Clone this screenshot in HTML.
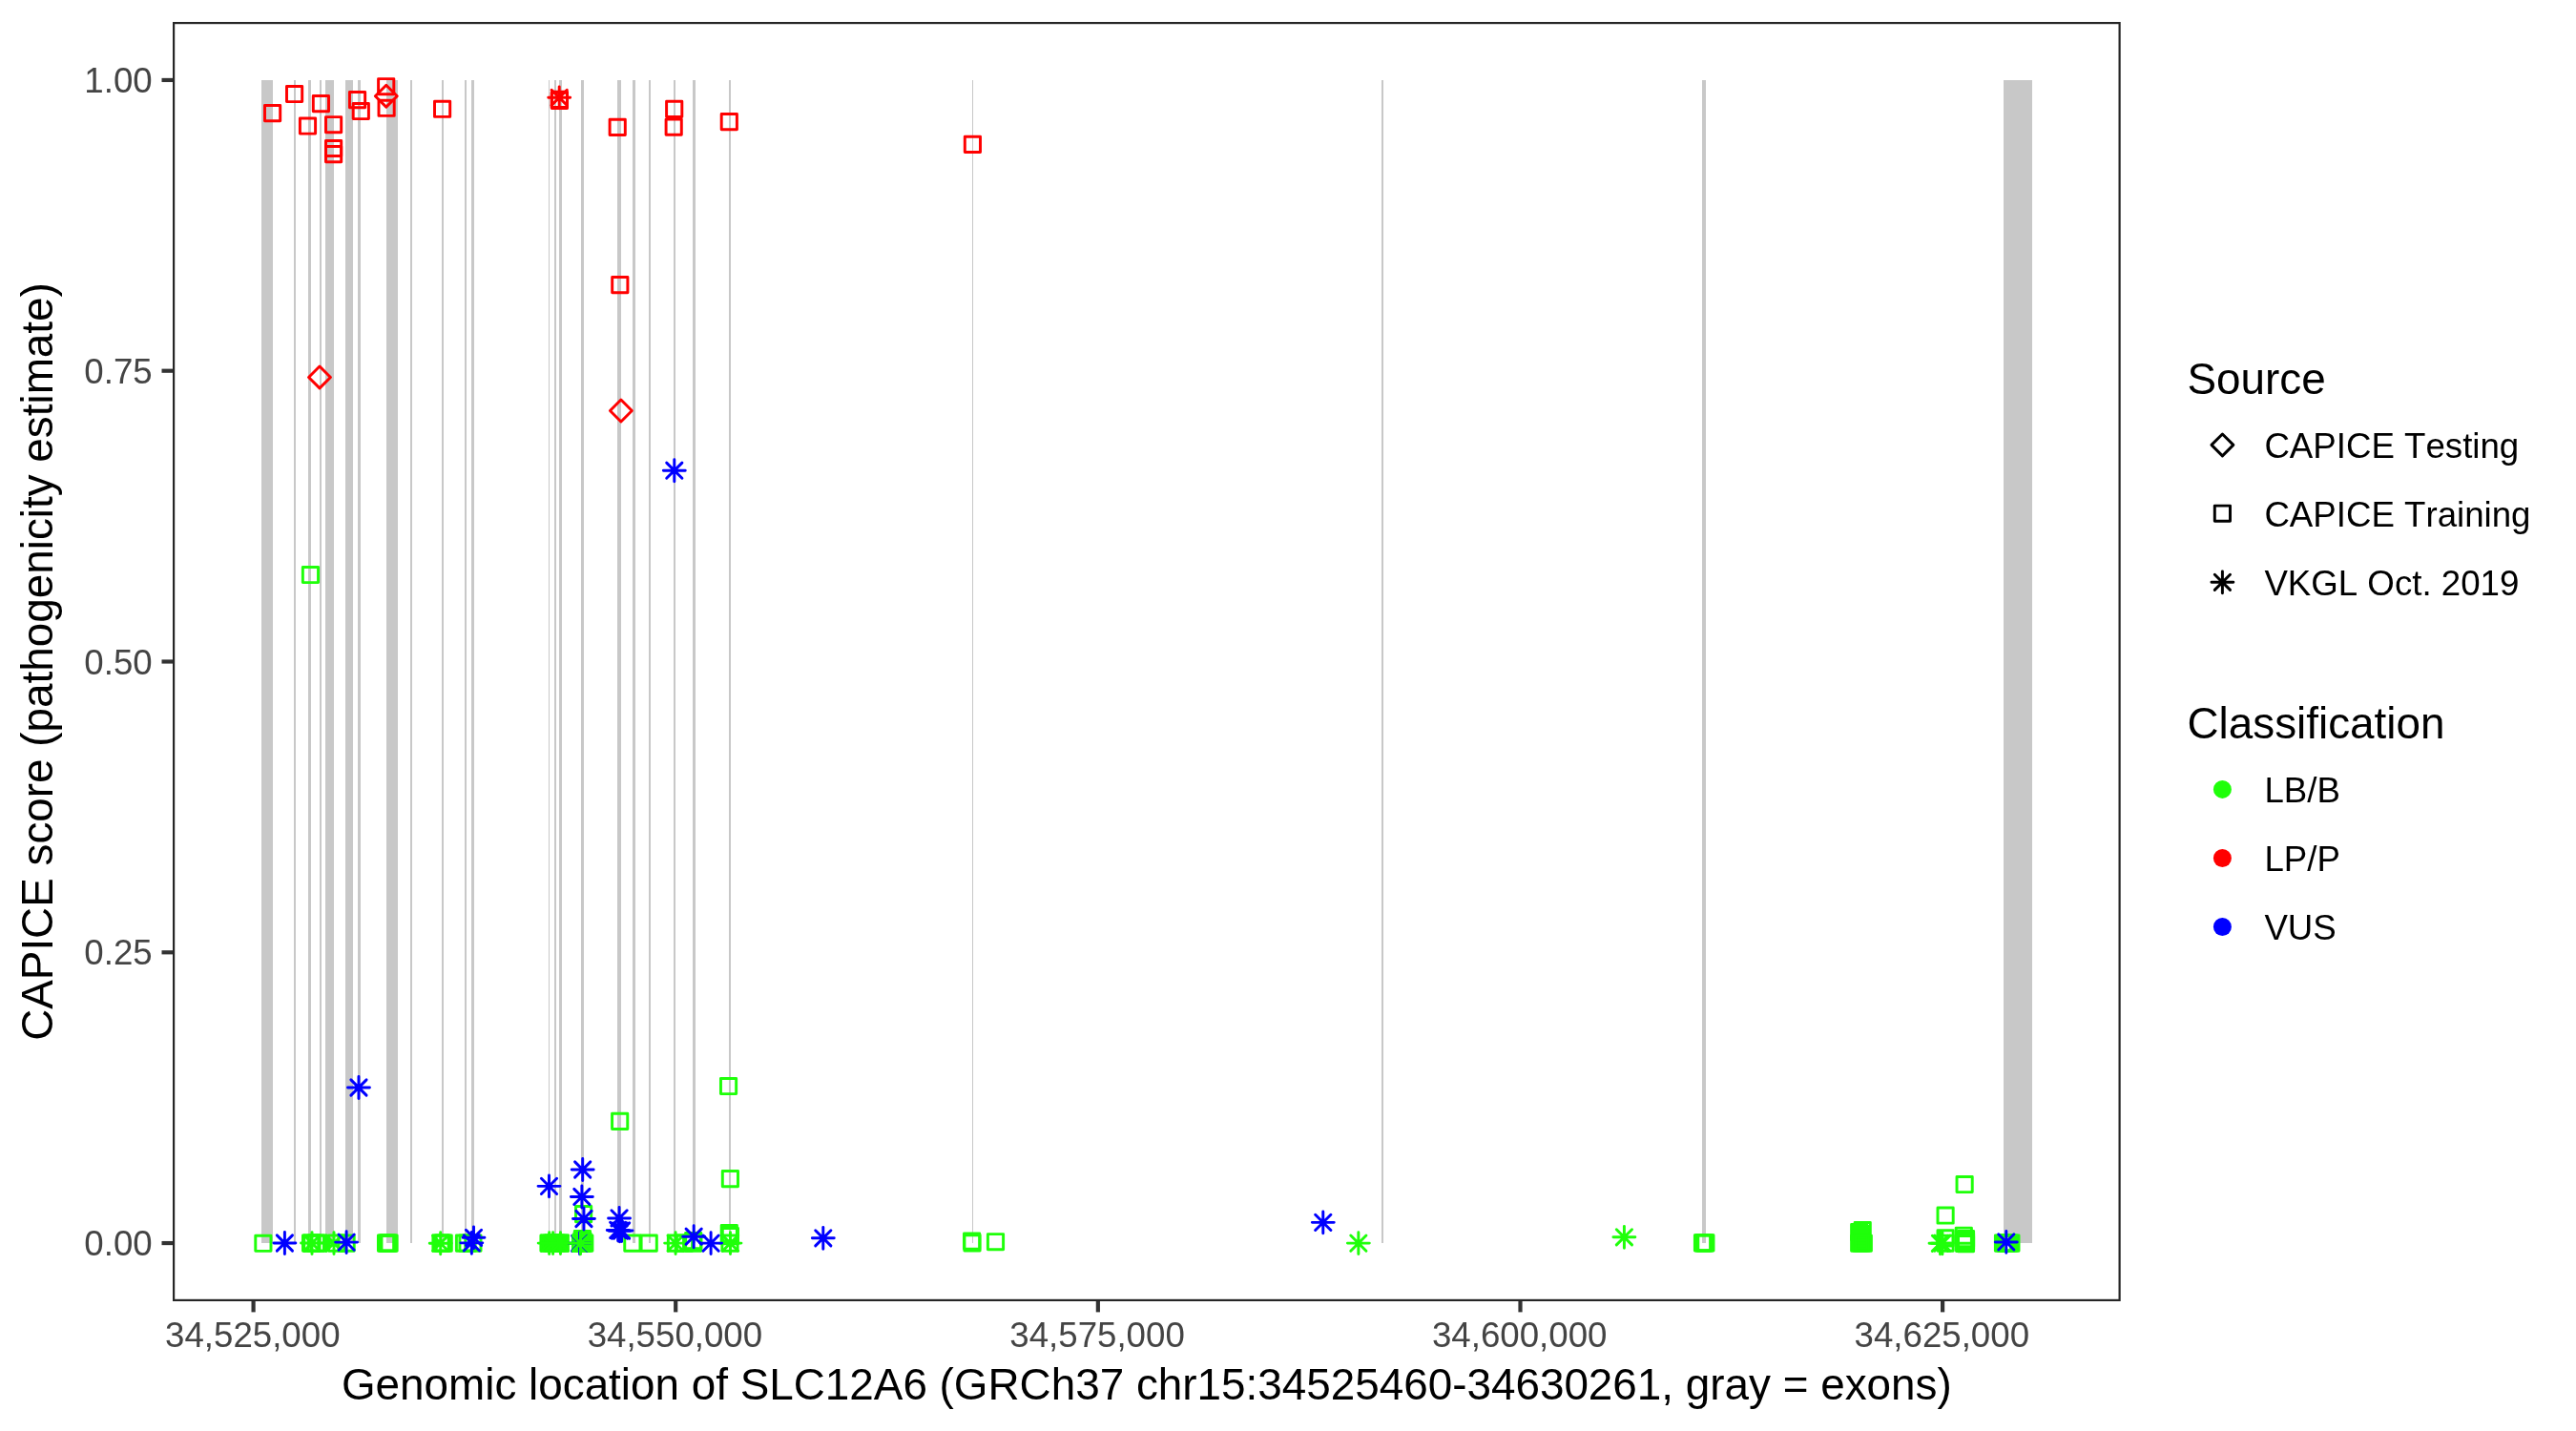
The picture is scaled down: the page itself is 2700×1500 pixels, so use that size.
<!DOCTYPE html>
<html><head><meta charset="utf-8"><title>CAPICE SLC12A6</title>
<style>html,body{margin:0;padding:0;background:#fff;}body{width:2700px;height:1500px;overflow:hidden;font-family:"Liberation Sans",sans-serif;}svg{display:block;will-change:transform;}text{font-kerning:none;}</style></head>
<body>
<svg width="2700" height="1500" viewBox="0 0 2700 1500">
<rect width="2700" height="1500" fill="#fff"/>
<g fill="#C8C8C8" shape-rendering="crispEdges">
<rect x="274.00" y="83.95" width="12.00" height="1218.80"/>
<rect x="308.00" y="83.95" width="2.00" height="1218.80"/>
<rect x="323.00" y="83.95" width="3.00" height="1218.80"/>
<rect x="335.00" y="83.95" width="2.00" height="1218.80"/>
<rect x="341.00" y="83.95" width="9.00" height="1218.80"/>
<rect x="362.00" y="83.95" width="8.00" height="1218.80"/>
<rect x="375.00" y="83.95" width="3.00" height="1218.80"/>
<rect x="405.00" y="83.95" width="12.00" height="1218.80"/>
<rect x="430.00" y="83.95" width="2.00" height="1218.80"/>
<rect x="463.00" y="83.95" width="2.00" height="1218.80"/>
<rect x="487.00" y="83.95" width="2.00" height="1218.80"/>
<rect x="494.00" y="83.95" width="3.00" height="1218.80"/>
<rect x="575.00" y="83.95" width="1.10" height="1218.80"/>
<rect x="581.00" y="83.95" width="2.00" height="1218.80"/>
<rect x="586.00" y="83.95" width="3.00" height="1218.80"/>
<rect x="609.00" y="83.95" width="3.00" height="1218.80"/>
<rect x="647.00" y="83.95" width="4.00" height="1218.80"/>
<rect x="663.00" y="83.95" width="3.00" height="1218.80"/>
<rect x="680.00" y="83.95" width="2.00" height="1218.80"/>
<rect x="706.00" y="83.95" width="2.00" height="1218.80"/>
<rect x="726.00" y="83.95" width="3.00" height="1218.80"/>
<rect x="764.00" y="83.95" width="2.00" height="1218.80"/>
<rect x="1019.00" y="83.95" width="1.10" height="1218.80"/>
<rect x="1448.00" y="83.95" width="2.00" height="1218.80"/>
<rect x="1784.00" y="83.95" width="4.00" height="1218.80"/>
<rect x="2100.00" y="83.95" width="30.00" height="1218.80"/>
</g>
<g fill="none" stroke-width="2.95" stroke-linecap="round" stroke-linejoin="round">
<path d="M393.35 100.70L404.80 112.15L416.25 100.70L404.80 89.25Z" stroke="#FF0000"/>
<path d="M323.55 395.45L335.00 406.90L346.45 395.45L335.00 384.00Z" stroke="#FF0000"/>
<path d="M639.45 430.50L650.90 441.95L662.35 430.50L650.90 419.05Z" stroke="#FF0000"/>
<rect x="277.50" y="110.50" width="16.20" height="16.20" stroke="#FF0000"/>
<rect x="300.50" y="90.40" width="16.20" height="16.20" stroke="#FF0000"/>
<rect x="314.40" y="123.90" width="16.20" height="16.20" stroke="#FF0000"/>
<rect x="328.30" y="100.50" width="16.20" height="16.20" stroke="#FF0000"/>
<rect x="341.50" y="122.60" width="16.20" height="16.20" stroke="#FF0000"/>
<rect x="341.50" y="147.40" width="16.20" height="16.20" stroke="#FF0000"/>
<rect x="341.50" y="153.50" width="16.20" height="16.20" stroke="#FF0000"/>
<rect x="366.45" y="96.50" width="16.20" height="16.20" stroke="#FF0000"/>
<rect x="370.20" y="108.40" width="16.20" height="16.20" stroke="#FF0000"/>
<rect x="396.60" y="82.60" width="16.20" height="16.20" stroke="#FF0000"/>
<rect x="397.00" y="105.20" width="16.20" height="16.20" stroke="#FF0000"/>
<rect x="455.50" y="106.20" width="16.20" height="16.20" stroke="#FF0000"/>
<rect x="578.30" y="96.30" width="16.20" height="16.20" stroke="#FF0000"/>
<rect x="578.30" y="97.30" width="16.20" height="16.20" stroke="#FF0000"/>
<rect x="639.10" y="125.20" width="16.20" height="16.20" stroke="#FF0000"/>
<rect x="698.60" y="106.30" width="16.20" height="16.20" stroke="#FF0000"/>
<rect x="698.10" y="125.10" width="16.20" height="16.20" stroke="#FF0000"/>
<rect x="756.20" y="119.50" width="16.20" height="16.20" stroke="#FF0000"/>
<rect x="641.70" y="290.46" width="16.20" height="16.20" stroke="#FF0000"/>
<rect x="1011.30" y="143.26" width="16.20" height="16.20" stroke="#FF0000"/>
<path d="M578.10 94.20L594.30 110.40M578.10 110.40L594.30 94.20M574.75 102.30L597.65 102.30M586.20 90.85L586.20 113.75" stroke="#FF0000"/>
<g fill="#1FFF0A" stroke="none">
<rect x="566.50" y="1294.50" width="29.00" height="17.00"/>
<rect x="600.50" y="1292.00" width="20.00" height="19.50"/>
<rect x="1941.00" y="1284.00" width="19.00" height="27.50"/>
<rect x="338.00" y="1294.50" width="8.00" height="17.00"/>
</g>
<rect x="317.35" y="594.40" width="16.20" height="16.20" stroke="#1FFF0A"/>
<rect x="755.46" y="1130.40" width="16.20" height="16.20" stroke="#1FFF0A"/>
<rect x="641.57" y="1167.25" width="16.20" height="16.20" stroke="#1FFF0A"/>
<rect x="757.30" y="1227.46" width="16.20" height="16.20" stroke="#1FFF0A"/>
<rect x="603.50" y="1264.50" width="16.20" height="16.20" stroke="#1FFF0A"/>
<rect x="2051.03" y="1233.40" width="16.20" height="16.20" stroke="#1FFF0A"/>
<rect x="2031.00" y="1265.95" width="16.20" height="16.20" stroke="#1FFF0A"/>
<rect x="267.80" y="1295.15" width="16.20" height="16.20" stroke="#1FFF0A"/>
<rect x="317.50" y="1295.00" width="16.20" height="16.20" stroke="#1FFF0A"/>
<rect x="318.80" y="1295.00" width="16.20" height="16.20" stroke="#1FFF0A"/>
<rect x="323.25" y="1295.00" width="16.20" height="16.20" stroke="#1FFF0A"/>
<rect x="326.10" y="1295.00" width="16.20" height="16.20" stroke="#1FFF0A"/>
<rect x="344.55" y="1295.00" width="16.20" height="16.20" stroke="#1FFF0A"/>
<rect x="355.00" y="1295.00" width="16.20" height="16.20" stroke="#1FFF0A"/>
<rect x="396.45" y="1295.00" width="16.20" height="16.20" stroke="#1FFF0A"/>
<rect x="397.60" y="1295.00" width="16.20" height="16.20" stroke="#1FFF0A"/>
<rect x="398.80" y="1295.00" width="16.20" height="16.20" stroke="#1FFF0A"/>
<rect x="399.95" y="1295.00" width="16.20" height="16.20" stroke="#1FFF0A"/>
<rect x="453.90" y="1295.00" width="16.20" height="16.20" stroke="#1FFF0A"/>
<rect x="455.50" y="1295.00" width="16.20" height="16.20" stroke="#1FFF0A"/>
<rect x="457.10" y="1295.00" width="16.20" height="16.20" stroke="#1FFF0A"/>
<rect x="478.40" y="1295.00" width="16.20" height="16.20" stroke="#1FFF0A"/>
<rect x="481.90" y="1295.00" width="16.20" height="16.20" stroke="#1FFF0A"/>
<rect x="487.80" y="1295.00" width="16.20" height="16.20" stroke="#1FFF0A"/>
<rect x="566.90" y="1295.00" width="16.20" height="16.20" stroke="#1FFF0A"/>
<rect x="569.50" y="1295.00" width="16.20" height="16.20" stroke="#1FFF0A"/>
<rect x="572.20" y="1295.00" width="16.20" height="16.20" stroke="#1FFF0A"/>
<rect x="574.90" y="1295.00" width="16.20" height="16.20" stroke="#1FFF0A"/>
<rect x="577.50" y="1295.00" width="16.20" height="16.20" stroke="#1FFF0A"/>
<rect x="579.20" y="1295.00" width="16.20" height="16.20" stroke="#1FFF0A"/>
<rect x="600.40" y="1295.00" width="16.20" height="16.20" stroke="#1FFF0A"/>
<rect x="601.70" y="1295.00" width="16.20" height="16.20" stroke="#1FFF0A"/>
<rect x="603.10" y="1295.00" width="16.20" height="16.20" stroke="#1FFF0A"/>
<rect x="604.70" y="1295.00" width="16.20" height="16.20" stroke="#1FFF0A"/>
<rect x="602.30" y="1290.40" width="16.20" height="16.20" stroke="#1FFF0A"/>
<rect x="602.30" y="1292.60" width="16.20" height="16.20" stroke="#1FFF0A"/>
<rect x="654.75" y="1295.00" width="16.20" height="16.20" stroke="#1FFF0A"/>
<rect x="672.10" y="1295.00" width="16.20" height="16.20" stroke="#1FFF0A"/>
<rect x="700.35" y="1295.00" width="16.20" height="16.20" stroke="#1FFF0A"/>
<rect x="709.40" y="1295.00" width="16.20" height="16.20" stroke="#1FFF0A"/>
<rect x="718.60" y="1295.00" width="16.20" height="16.20" stroke="#1FFF0A"/>
<rect x="718.60" y="1292.40" width="16.20" height="16.20" stroke="#1FFF0A"/>
<rect x="756.20" y="1284.50" width="16.20" height="16.20" stroke="#1FFF0A"/>
<rect x="757.30" y="1287.50" width="16.20" height="16.20" stroke="#1FFF0A"/>
<rect x="756.90" y="1295.00" width="16.20" height="16.20" stroke="#1FFF0A"/>
<rect x="1010.50" y="1292.90" width="16.20" height="16.20" stroke="#1FFF0A"/>
<rect x="1010.90" y="1294.80" width="16.20" height="16.20" stroke="#1FFF0A"/>
<rect x="1035.40" y="1293.60" width="16.20" height="16.20" stroke="#1FFF0A"/>
<rect x="1776.40" y="1294.80" width="16.20" height="16.20" stroke="#1FFF0A"/>
<rect x="1777.50" y="1294.80" width="16.20" height="16.20" stroke="#1FFF0A"/>
<rect x="1778.70" y="1294.80" width="16.20" height="16.20" stroke="#1FFF0A"/>
<rect x="1779.80" y="1294.80" width="16.20" height="16.20" stroke="#1FFF0A"/>
<rect x="1944.10" y="1281.50" width="16.20" height="16.20" stroke="#1FFF0A"/>
<rect x="1940.60" y="1283.50" width="16.20" height="16.20" stroke="#1FFF0A"/>
<rect x="1942.40" y="1286.40" width="16.20" height="16.20" stroke="#1FFF0A"/>
<rect x="1942.40" y="1289.40" width="16.20" height="16.20" stroke="#1FFF0A"/>
<rect x="1942.40" y="1292.40" width="16.20" height="16.20" stroke="#1FFF0A"/>
<rect x="1940.60" y="1295.10" width="16.20" height="16.20" stroke="#1FFF0A"/>
<rect x="1942.90" y="1295.10" width="16.20" height="16.20" stroke="#1FFF0A"/>
<rect x="1945.20" y="1295.10" width="16.20" height="16.20" stroke="#1FFF0A"/>
<rect x="2031.00" y="1289.75" width="16.20" height="16.20" stroke="#1FFF0A"/>
<rect x="2031.00" y="1295.10" width="16.20" height="16.20" stroke="#1FFF0A"/>
<rect x="2050.20" y="1287.10" width="16.20" height="16.20" stroke="#1FFF0A"/>
<rect x="2052.40" y="1290.50" width="16.20" height="16.20" stroke="#1FFF0A"/>
<rect x="2052.40" y="1293.00" width="16.20" height="16.20" stroke="#1FFF0A"/>
<rect x="2052.40" y="1295.50" width="16.20" height="16.20" stroke="#1FFF0A"/>
<rect x="2050.50" y="1295.30" width="16.20" height="16.20" stroke="#1FFF0A"/>
<rect x="2091.40" y="1295.00" width="16.20" height="16.20" stroke="#1FFF0A"/>
<rect x="2093.50" y="1295.00" width="16.20" height="16.20" stroke="#1FFF0A"/>
<rect x="2095.60" y="1295.00" width="16.20" height="16.20" stroke="#1FFF0A"/>
<rect x="2097.70" y="1295.00" width="16.20" height="16.20" stroke="#1FFF0A"/>
<rect x="2099.80" y="1295.00" width="16.20" height="16.20" stroke="#1FFF0A"/>
<path d="M599.50 1295.20L615.70 1311.40M599.50 1311.40L615.70 1295.20M596.15 1303.30L619.05 1303.30M607.60 1291.85L607.60 1314.75" stroke="#0000FF"/>
<path d="M318.90 1294.95L335.10 1311.15M318.90 1311.15L335.10 1294.95M315.55 1303.05L338.45 1303.05M327.00 1291.60L327.00 1314.50" stroke="#1FFF0A"/>
<path d="M341.90 1294.95L358.10 1311.15M341.90 1311.15L358.10 1294.95M338.55 1303.05L361.45 1303.05M350.00 1291.60L350.00 1314.50" stroke="#1FFF0A"/>
<path d="M453.60 1295.10L469.80 1311.30M453.60 1311.30L469.80 1295.10M450.25 1303.20L473.15 1303.20M461.70 1291.75L461.70 1314.65" stroke="#1FFF0A"/>
<path d="M567.55 1295.00L583.75 1311.20M567.55 1311.20L583.75 1295.00M564.20 1303.10L587.10 1303.10M575.65 1291.65L575.65 1314.55" stroke="#1FFF0A"/>
<path d="M571.50 1295.00L587.70 1311.20M571.50 1311.20L587.70 1295.00M568.15 1303.10L591.05 1303.10M579.60 1291.65L579.60 1314.55" stroke="#1FFF0A"/>
<path d="M579.35 1295.00L595.55 1311.20M579.35 1311.20L595.55 1295.00M576.00 1303.10L598.90 1303.10M587.45 1291.65L587.45 1314.55" stroke="#1FFF0A"/>
<path d="M600.40 1295.20L616.60 1311.40M600.40 1311.40L616.60 1295.20M597.05 1303.30L619.95 1303.30M608.50 1291.85L608.50 1314.75" stroke="#1FFF0A"/>
<path d="M700.00 1295.00L716.20 1311.20M700.00 1311.20L716.20 1295.00M696.65 1303.10L719.55 1303.10M708.10 1291.65L708.10 1314.55" stroke="#1FFF0A"/>
<path d="M757.40 1295.00L773.60 1311.20M757.40 1311.20L773.60 1295.00M754.05 1303.10L776.95 1303.10M765.50 1291.65L765.50 1314.55" stroke="#1FFF0A"/>
<path d="M1415.75 1295.00L1431.95 1311.20M1415.75 1311.20L1431.95 1295.00M1412.40 1303.10L1435.30 1303.10M1423.85 1291.65L1423.85 1314.55" stroke="#1FFF0A"/>
<path d="M1694.30 1288.70L1710.50 1304.90M1694.30 1304.90L1710.50 1288.70M1690.95 1296.80L1713.85 1296.80M1702.40 1285.35L1702.40 1308.25" stroke="#1FFF0A"/>
<path d="M2025.40 1295.20L2041.60 1311.40M2025.40 1311.40L2041.60 1295.20M2022.05 1303.30L2044.95 1303.30M2033.50 1291.85L2033.50 1314.75" stroke="#1FFF0A"/>
<path d="M2027.80 1295.10L2044.00 1311.30M2027.80 1311.30L2044.00 1295.10M2024.45 1303.20L2047.35 1303.20M2035.90 1291.75L2035.90 1314.65" stroke="#1FFF0A"/>
<path d="M290.30 1294.90L306.50 1311.10M290.30 1311.10L306.50 1294.90M286.95 1303.00L309.85 1303.00M298.40 1291.55L298.40 1314.45" stroke="#0000FF"/>
<path d="M355.00 1294.00L371.20 1310.20M355.00 1310.20L371.20 1294.00M351.65 1302.10L374.55 1302.10M363.10 1290.65L363.10 1313.55" stroke="#0000FF"/>
<path d="M367.87 1131.90L384.07 1148.10M367.87 1148.10L384.07 1131.90M364.52 1140.00L387.42 1140.00M375.97 1128.55L375.97 1151.45" stroke="#0000FF"/>
<path d="M488.40 1289.20L504.60 1305.40M488.40 1305.40L504.60 1289.20M485.05 1297.30L507.95 1297.30M496.50 1285.85L496.50 1308.75" stroke="#0000FF"/>
<path d="M486.25 1294.76L502.45 1310.96M486.25 1310.96L502.45 1294.76M482.90 1302.86L505.80 1302.86M494.35 1291.41L494.35 1314.31" stroke="#0000FF"/>
<path d="M567.40 1235.25L583.60 1251.45M567.40 1251.45L583.60 1235.25M564.05 1243.35L586.95 1243.35M575.50 1231.90L575.50 1254.80" stroke="#0000FF"/>
<path d="M602.60 1217.90L618.80 1234.10M602.60 1234.10L618.80 1217.90M599.25 1226.00L622.15 1226.00M610.70 1214.55L610.70 1237.45" stroke="#0000FF"/>
<path d="M601.77 1246.35L617.97 1262.55M601.77 1262.55L617.97 1246.35M598.42 1254.45L621.32 1254.45M609.87 1243.00L609.87 1265.90" stroke="#0000FF"/>
<path d="M603.86 1269.40L620.06 1285.60M603.86 1285.60L620.06 1269.40M600.51 1277.50L623.41 1277.50M611.96 1266.05L611.96 1288.95" stroke="#0000FF"/>
<path d="M640.96 1268.80L657.16 1285.00M640.96 1285.00L657.16 1268.80M637.61 1276.90L660.51 1276.90M649.06 1265.45L649.06 1288.35" stroke="#0000FF"/>
<path d="M639.60 1281.30L655.80 1297.50M639.60 1297.50L655.80 1281.30M636.25 1289.40L659.15 1289.40M647.70 1277.95L647.70 1300.85" stroke="#0000FF"/>
<path d="M641.40 1282.10L657.60 1298.30M641.40 1298.30L657.60 1282.10M638.05 1290.20L660.95 1290.20M649.50 1278.75L649.50 1301.65" stroke="#0000FF"/>
<path d="M643.50 1281.90L659.70 1298.10M643.50 1298.10L659.70 1281.90M640.15 1290.00L663.05 1290.00M651.60 1278.55L651.60 1301.45" stroke="#0000FF"/>
<path d="M698.70 485.10L714.90 501.30M698.70 501.30L714.90 485.10M695.35 493.20L718.25 493.20M706.80 481.75L706.80 504.65" stroke="#0000FF"/>
<path d="M719.07 1288.10L735.27 1304.30M719.07 1304.30L735.27 1288.10M715.72 1296.20L738.62 1296.20M727.17 1284.75L727.17 1307.65" stroke="#0000FF"/>
<path d="M737.00 1295.00L753.20 1311.20M737.00 1311.20L753.20 1295.00M733.65 1303.10L756.55 1303.10M745.10 1291.65L745.10 1314.55" stroke="#0000FF"/>
<path d="M854.70 1289.70L870.90 1305.90M854.70 1305.90L870.90 1289.70M851.35 1297.80L874.25 1297.80M862.80 1286.35L862.80 1309.25" stroke="#0000FF"/>
<path d="M1378.67 1273.27L1394.87 1289.47M1378.67 1289.47L1394.87 1273.27M1375.32 1281.37L1398.22 1281.37M1386.77 1269.92L1386.77 1292.82" stroke="#0000FF"/>
<path d="M2094.70 1293.80L2110.90 1310.00M2094.70 1310.00L2110.90 1293.80M2091.35 1301.90L2114.25 1301.90M2102.80 1290.45L2102.80 1313.35" stroke="#0000FF"/>
</g>
<rect x="182.10" y="24.10" width="2039.50" height="1338.80" fill="none" stroke="#262626" stroke-width="2.20"/>
<g stroke="#333333" stroke-width="4.2">
<line x1="169.5" x2="181.00" y1="83.95" y2="83.95"/>
<line x1="169.5" x2="181.00" y1="388.70" y2="388.70"/>
<line x1="169.5" x2="181.00" y1="693.50" y2="693.50"/>
<line x1="169.5" x2="181.00" y1="998.30" y2="998.30"/>
<line x1="169.5" x2="181.00" y1="1303.05" y2="1303.05"/>
<line x1="265.60" x2="265.60" y1="1364.00" y2="1375.4"/>
<line x1="708.20" x2="708.20" y1="1364.00" y2="1375.4"/>
<line x1="1150.85" x2="1150.85" y1="1364.00" y2="1375.4"/>
<line x1="1593.50" x2="1593.50" y1="1364.00" y2="1375.4"/>
<line x1="2036.10" x2="2036.10" y1="1364.00" y2="1375.4"/>
</g>
<g font-family="'Liberation Sans', sans-serif" font-size="36.67" fill="#444444">
<text x="159.7" y="96.95" text-anchor="end">1.00</text>
<text x="159.7" y="401.70" text-anchor="end">0.75</text>
<text x="159.7" y="706.50" text-anchor="end">0.50</text>
<text x="159.7" y="1011.30" text-anchor="end">0.25</text>
<text x="159.7" y="1316.05" text-anchor="end">0.00</text>
<text x="264.80" y="1411.8" text-anchor="middle">34,525,000</text>
<text x="707.40" y="1411.8" text-anchor="middle">34,550,000</text>
<text x="1150.05" y="1411.8" text-anchor="middle">34,575,000</text>
<text x="1592.70" y="1411.8" text-anchor="middle">34,600,000</text>
<text x="2035.30" y="1411.8" text-anchor="middle">34,625,000</text>
</g>
<g font-family="'Liberation Sans', sans-serif" font-size="45.83" fill="#000">
<text x="1201.85" y="1467.2" text-anchor="middle">Genomic location of SLC12A6 (GRCh37 chr15:34525460-34630261, gray = exons)</text>
<text transform="translate(55.2 693.5) rotate(-90)" text-anchor="middle">CAPICE score (pathogenicity estimate)</text>
<text x="2292.5" y="412.8">Source</text>
<text x="2292.5" y="773.9">Classification</text>
</g>
<g fill="none" stroke-width="2.95" stroke-linecap="round" stroke-linejoin="round">
<path d="M2317.95 466.40L2329.40 477.85L2340.85 466.40L2329.40 454.95Z" stroke="#000"/>
<rect x="2321.30" y="530.10" width="16.20" height="16.20" stroke="#000"/>
<path d="M2321.30 602.20L2337.50 618.40M2321.30 618.40L2337.50 602.20M2317.95 610.30L2340.85 610.30M2329.40 598.85L2329.40 621.75" stroke="#000"/>
</g>
<circle cx="2329.4" cy="827.4" r="9.5" fill="#1FFF0A"/>
<circle cx="2329.4" cy="899.5" r="9.5" fill="#FF0000"/>
<circle cx="2329.4" cy="971.5" r="9.5" fill="#0000FF"/>
<g font-family="'Liberation Sans', sans-serif" font-size="36.67" fill="#000">
<text x="2373.4" y="479.90">CAPICE Testing</text>
<text x="2373.4" y="551.80">CAPICE Training</text>
<text x="2373.4" y="623.70">VKGL Oct. 2019</text>
<text x="2373.4" y="840.50">LB/B</text>
<text x="2373.4" y="912.50">LP/P</text>
<text x="2373.4" y="984.60">VUS</text>
</g>
</svg>
</body></html>
